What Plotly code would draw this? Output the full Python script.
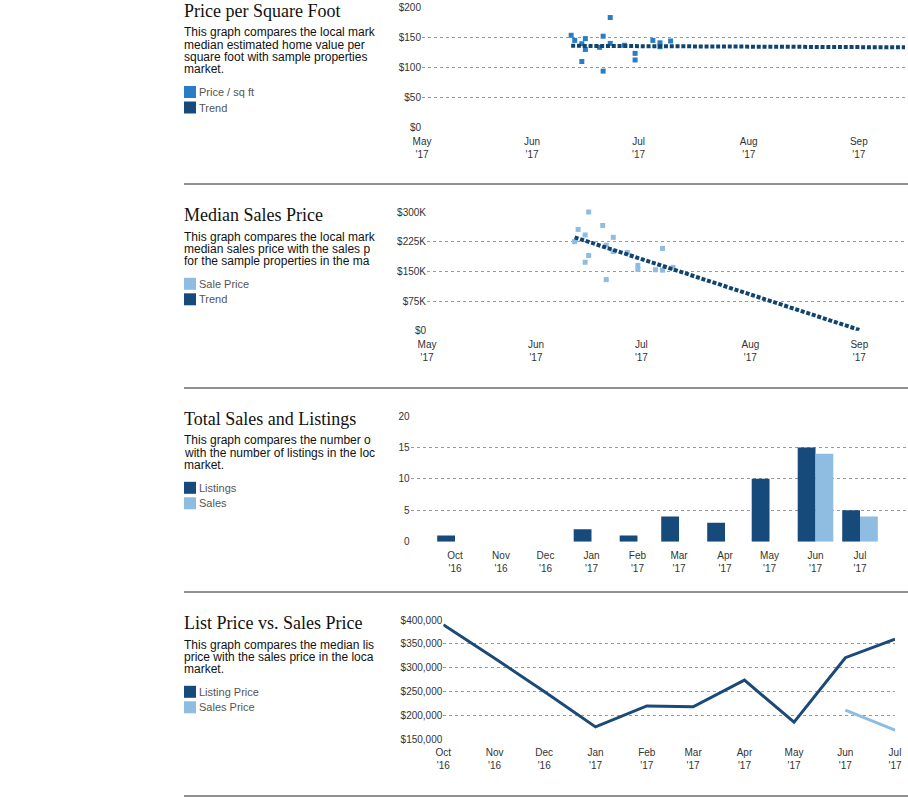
import plotly.graph_objects as go

W, H = 908, 799

# ---------------- DATA ----------------
# Panel 1: Price per square foot
ppsf_dates = ["2017-06-12", "2017-06-13", "2017-06-15", "2017-06-15", "2017-06-16", "2017-06-16",
              "2017-06-20", "2017-06-21", "2017-06-21", "2017-06-23", "2017-06-23", "2017-06-27",
              "2017-06-30", "2017-06-30", "2017-07-05", "2017-07-07", "2017-07-07", "2017-07-10"]
ppsf_values = [153.5, 145, 139.5, 110, 148, 130, 133.5, 152, 94, 183, 140, 137,
               123.5, 112.5, 145, 141, 134.5, 144]
ppsf_trend_dates = ["2017-06-12", "2017-09-14"]
ppsf_trend_values = [136, 133.5]

# Panel 2: Median sales price
sale_dates = ["2017-06-12", "2017-06-13", "2017-06-15", "2017-06-15", "2017-06-16", "2017-06-16",
              "2017-06-20", "2017-06-21", "2017-06-21", "2017-06-23", "2017-06-23", "2017-06-27",
              "2017-06-30", "2017-06-30", "2017-07-05", "2017-07-07", "2017-07-07", "2017-07-10"]
sale_values = [225000, 256000, 242000, 173000, 300000, 190000, 266000, 216000, 129000,
               236000, 200000, 198000, 165000, 155000, 154000, 208000, 153000, 160000]
sale_trend_dates = ["2017-06-12", "2017-09-01"]
sale_trend_values = [236000, 2000]

# Panel 3: Total sales and listings
month_dates = ["2016-10-01", "2016-11-01", "2016-12-01", "2017-01-01", "2017-02-01",
               "2017-03-01", "2017-04-01", "2017-05-01", "2017-06-01", "2017-07-01"]
month_labels = ["Oct<br>'16", "Nov<br>'16", "Dec<br>'16", "Jan<br>'17", "Feb<br>'17",
                "Mar<br>'17", "Apr<br>'17", "May<br>'17", "Jun<br>'17", "Jul<br>'17"]
listings = [1, 0, 0, 2, 1, 4, 3, 10, 15, 5]
sales = [0, 0, 0, 0, 0, 0, 0, 0, 14, 4]

# Panel 4: List price vs sales price
listing_price = [390000, 320000, 250000, 176000, 220000, 218000, 274000, 186000, 321000, 360000]
sales_price_dates = ["2017-06-01", "2017-07-01"]
sales_price = [211000, 169000]

# Top two panels x ticks
top_tick_dates = ["2017-05-01", "2017-06-01", "2017-07-01", "2017-08-01", "2017-09-01"]
top_tick_labels = ["May<br>'17", "Jun<br>'17", "Jul<br>'17", "Aug<br>'17", "Sep<br>'17"]

# ---------------- STYLE ----------------
DARK = "#164a7b"
LIGHT = "#8fbce1"
MID = "#2a7dc4"
TREND = "#0f4470"
GRID = "#9a9a9a"
TXT = "#333333"
SANS = "Liberation Sans, Arial, sans-serif"
SERIF = "Liberation Serif, Georgia, serif"


def clamp(v):
    return max(0.0, min(1.0, v))


def px(v):
    return v / W


def py(v):
    return 1 - v / H


def xd(a, b):
    return [clamp(px(a)), clamp(px(b))]


def yd(top, bottom):
    return [clamp(py(bottom)), clamp(py(top))]


fig = go.Figure()

# Panel 1
fig.add_trace(go.Scatter(x=ppsf_dates, y=ppsf_values, mode="markers",
                         marker=dict(symbol="square", size=5, color=MID),
                         xaxis="x", yaxis="y", showlegend=False, cliponaxis=False))
fig.add_trace(go.Scatter(x=ppsf_trend_dates, y=ppsf_trend_values, mode="lines",
                         line=dict(color=TREND, width=4, dash="4px,1.8px"),
                         xaxis="x", yaxis="y", showlegend=False))

# Panel 2
fig.add_trace(go.Scatter(x=sale_dates, y=sale_values, mode="markers",
                         marker=dict(symbol="square", size=5, color=LIGHT),
                         xaxis="x2", yaxis="y2", showlegend=False, cliponaxis=False))
fig.add_trace(go.Scatter(x=sale_trend_dates, y=sale_trend_values, mode="lines",
                         line=dict(color=TREND, width=4, dash="4px,1.8px"),
                         xaxis="x2", yaxis="y2", showlegend=False))

# Panel 3
DAY = 86400000
fig.add_trace(go.Bar(x=month_dates, y=listings, marker=dict(color=DARK, line=dict(width=0)),
                     width=12 * DAY, offset=-12 * DAY, xaxis="x3", yaxis="y3", showlegend=False))
fig.add_trace(go.Bar(x=month_dates, y=sales, marker=dict(color=LIGHT, line=dict(width=0)),
                     width=12 * DAY, offset=0, xaxis="x3", yaxis="y3", showlegend=False))

# Panel 4
fig.add_trace(go.Scatter(x=month_dates, y=listing_price, mode="lines",
                         line=dict(color="#1b4a78", width=3),
                         xaxis="x4", yaxis="y4", showlegend=False, cliponaxis=False))
fig.add_trace(go.Scatter(x=sales_price_dates, y=sales_price, mode="lines",
                         line=dict(color=LIGHT, width=3),
                         xaxis="x4", yaxis="y4", showlegend=False, cliponaxis=False))

tickfont = dict(family=SANS, size=10, color=TXT)


def xaxis(dom, rng, tv, tt, anchor):
    return dict(domain=xd(*dom), range=rng, type="date", tickvals=tv, ticktext=tt,
                showgrid=False, zeroline=False, showline=False, ticks="",
                tickfont=tickfont, anchor=anchor, fixedrange=True, automargin=False,
                ticklabelstandoff=6)


def yaxis(dom, rng, anchor, **kw):
    d = dict(domain=yd(*dom), range=rng, showgrid=True, gridcolor=GRID, griddash="dot",
             gridwidth=1, zeroline=False, showline=False, ticks="", tickfont=tickfont,
             anchor=anchor, fixedrange=True, automargin=False)
    d.update(kw)
    return d


fig.update_layout(
    template="none",
    width=W, height=H, margin=dict(l=0, r=0, t=0, b=0, autoexpand=False),
    paper_bgcolor="white", plot_bgcolor="white",
    font=dict(family=SANS, color=TXT), barmode="overlay",
    xaxis=xaxis((422, 905), ["2017-05-01", "2017-09-14"], top_tick_dates, top_tick_labels, "y"),
    yaxis=yaxis((7.3, 127.7), [0, 200], "x", tickvals=[0, 50, 100, 150, 200],
                ticktext=["$0", "$50", "$100", "$150", "$200"]),
    xaxis2=xaxis((427, 905), ["2017-05-01", "2017-09-14"], top_tick_dates, top_tick_labels, "y2"),
    yaxis2=yaxis((212, 330.7), [0, 300000], "x2", tickvals=[0, 75000, 150000, 225000, 300000],
                 ticktext=["$0", "$75K", "$150K", "$225K", "$300K"]),
    xaxis3=xaxis((410.5, 906), ["2016-09-01", "2017-08-01"], month_dates, month_labels, "y3"),
    yaxis3=yaxis((416, 541.7), [0, 20], "x3", tickvals=[0, 5, 10, 15, 20]),
    xaxis4=xaxis((443.3, 895), ["2016-10-01", "2017-07-01"], month_dates, month_labels, "y4"),
    yaxis4=yaxis((620, 739.3), [150000, 400000], "x4", tickvals=[150000, 200000, 250000, 300000, 350000, 400000],
                 ticktext=["$150,000", "$200,000", "$250,000", "$300,000", "$350,000", "$400,000"]),
)

# ---------------- side text ----------------
panels = [
    dict(title="Price per Square Foot",
         lines=["This graph compares the local mark", "median estimated home value per",
                "square foot with sample properties", "market."],
         legend=[("Price / sq ft", MID), ("Trend", DARK)]),
    dict(title="Median Sales Price",
         lines=["This graph compares the local mark", "median sales price with the sales p",
                "for the sample properties in the ma"],
         legend=[("Sale Price", LIGHT), ("Trend", DARK)]),
    dict(title="Total Sales and Listings",
         lines=["This graph compares the number o", "with the number of listings in the loc",
                "market."],
         legend=[("Listings", DARK), ("Sales", LIGHT)]),
    dict(title="List Price vs. Sales Price",
         lines=["This graph compares the median lis", "price with the sales price in the loca",
                "market."],
         legend=[("Listing Price", DARK), ("Sales Price", LIGHT)]),
]

annotations = []
shapes = []
LX = 184
LINE = 12.2
for i, p in enumerate(panels):
    off = 204 * i
    annotations.append(dict(text=p["title"], x=px(LX - 2), y=py(11 + off), xref="paper", yref="paper",
                            xanchor="left", yanchor="middle", showarrow=False,
                            font=dict(family=SERIF, size=18, color="#111")))
    for j, ln in enumerate(p["lines"]):
        annotations.append(dict(text=ln, x=px(LX - 2), y=py(32.5 + off + LINE * j), xref="paper",
                                yref="paper", xanchor="left", yanchor="middle", showarrow=False,
                                font=dict(family=SANS, size=12, color="#111")))
    leg_top = 92 + off - LINE * (4 - len(p["lines"]))
    for k, (lab, col) in enumerate(p["legend"]):
        yc = leg_top + 15.5 * k
        shapes.append(dict(type="rect", xref="paper", yref="paper",
                           x0=px(184), x1=px(196), y0=py(yc - 6), y1=py(yc + 6),
                           fillcolor=col, line=dict(width=0)))
        annotations.append(dict(text=lab, x=px(197), y=py(yc), xref="paper", yref="paper",
                                xanchor="left", yanchor="middle", showarrow=False,
                                font=dict(family=SANS, size=11, color="#555")))
    # separator
    ys = 184 + off
    shapes.append(dict(type="line", xref="paper", yref="paper", x0=px(184), x1=1,
                       y0=py(ys), y1=py(ys), line=dict(color="#222", width=1)))

fig.update_layout(annotations=annotations, shapes=shapes)

fig.write_html("out.html", config={"displayModeBar": False},
               post_script="document.body.style.margin='0';document.body.style.overflow='hidden';")
